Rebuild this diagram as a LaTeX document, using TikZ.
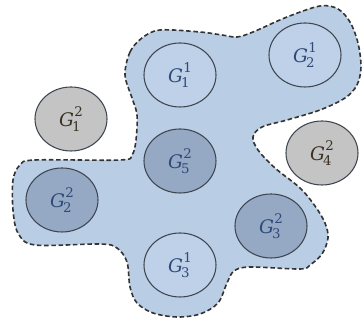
\documentclass[tikz,border=0pt]{standalone}
\usepackage{fontspec}
\setmainfont{DejaVu Serif}
\usepackage{tikz}
\usetikzlibrary{shapes.geometric}
\definecolor{blobfill}{HTML}{B9CDE5}
\definecolor{darkfill}{HTML}{95A9C4}
\definecolor{lightfill}{HTML}{BFD1E8}
\definecolor{grayfill}{HTML}{C4C4C4}
\definecolor{edgecol}{HTML}{3F4650}
\definecolor{bluetext}{HTML}{2E4A78}
\definecolor{graytext}{HTML}{3A3122}
\newcommand{\glab}[2]{\raisebox{-1.4pt}{\fontsize{14}{16}\selectfont\itshape G\upshape\rlap{\kern-1.3pt\raisebox{-3.3pt}{\fontsize{10}{10}\selectfont #1}}\kern0.4pt\raisebox{7.8pt}{\fontsize{10}{10}\selectfont #2}}}
\tikzset{
  grp/.style={ellipse, draw=edgecol, line width=0.8pt, minimum width=54pt, minimum height=48pt, inner sep=0pt},
  lightg/.style={grp, fill=lightfill, text=bluetext},
  darkg/.style={grp, fill=darkfill, text=bluetext},
  grayg/.style={grp, fill=grayfill, text=graytext},
  blob/.style={fill=blobfill, draw=black!80, line width=1.2pt, dash pattern=on 3.4pt off 2pt}
}
\begin{document}
\begin{tikzpicture}[x=0.75pt,y=-0.75pt]
\useasboundingbox (0,0) rectangle (362,320);
\draw[blob] plot[smooth cycle, tension=0.55] coordinates {
(125,75) (130,52) (142,38) (160,30) (200,32) (222,35) (237,37) (253,32) (287,17) (320,6) (338,9) (350,22) (358,43) (361,67) (357,85) (345,98) (320,110) (287,120) (262,127) (253,137) (258,150) (275,168) (300,188) (315,206) (325,223) (328,238) (322,254) (310,265) (300,269) (250,267) (234,271) (227,283) (218,303) (200,314) (177,317) (153,313) (137,303) (130,287) (127,262) (117,248) (100,244) (35,245) (18,233) (13,210) (13,180) (20,165) (35,160) (120,160) (132,155) (136,140) (137,115) (132,98)
};
\node[lightg] (g11) at (180,75) {\glab{1}{1}};
\node[lightg] (g21) at (305,55) {\glab{2}{1}};
\node[lightg] (g31) at (180,265) {\glab{3}{1}};
\node[darkg] (g52) at (180,161) {\glab{5}{2}};
\node[darkg] (g22) at (62,200) {\glab{2}{2}};
\node[darkg] (g32) at (271,226) {\glab{3}{2}};
\node[grayg] (g12) at (71,119) {\glab{1}{2}};
\node[grayg] (g42) at (322,153) {\glab{4}{2}};
\end{tikzpicture}
\end{document}
